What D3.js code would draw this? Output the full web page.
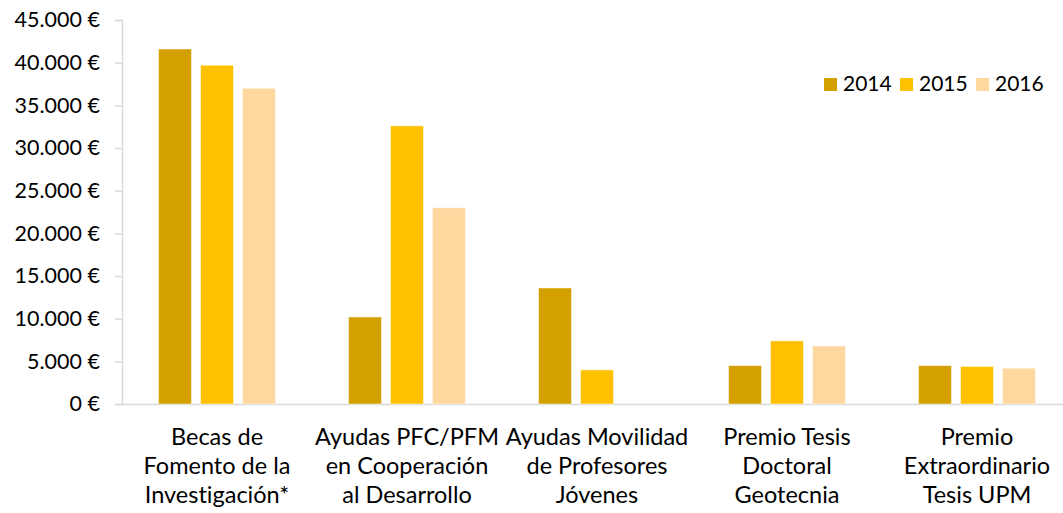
<!DOCTYPE html>
<html lang="es">
<head>
<meta charset="UTF-8">
<title>Ayudas y premios</title>
<style>
  body { margin: 0; background: white; }
  text { font-family: Lato, "Open Sans", sans-serif; fill: #000; font-variant-ligatures: none; }
</style>
<script src="https://d3js.org/d3.v7.min.js"></script>
</head>
<body>
<div id="chart"></div>
<script>
// categories (multi-line labels)
const categories = [
  ["Becas de", "Fomento de la", "Investigación*"],
  ["Ayudas PFC/PFM", "en Cooperación", "al Desarrollo"],
  ["Ayudas Movilidad", "de Profesores", "Jóvenes"],
  ["Premio Tesis", "Doctoral", "Geotecnia"],
  ["Premio", "Extraordinario", "Tesis UPM"]
];
const years = ["2014", "2015", "2016"];
const values2014 = [41600, 10200, 13600, 4500, 4500];
const values2015 = [39700, 32600, 4000, 7400, 4400];
const values2016 = [37000, 23000, 0, 6800, 4200];
const yTicks = [0, 5000, 10000, 15000, 20000, 25000, 30000, 35000, 40000, 45000];
const colors = ["#D4A000", "#FFC000", "#FFD8A0"];

const series = [values2014, values2015, values2016];
const width = 1063, height = 513;
const margin = { left: 122, right: -9, top: 20, bottom: 109 };

const svg = d3.select("#chart").append("svg")
  .attr("width", width).attr("height", height);

const x = d3.scaleBand()
  .domain(d3.range(categories.length))
  .range([margin.left, width - margin.right])
  .paddingInner(0).paddingOuter(0);

const x1 = d3.scaleBand()
  .domain(years)
  .range([0, x.bandwidth()])
  .paddingInner(0.214)
  .paddingOuter(0.87);

const y = d3.scaleLinear()
  .domain([0, 45000])
  .range([height - margin.bottom, margin.top]);

const fmt = v => d3.format(",")(v).replace(/,/g, ".") + " €";

// y axis
const yAxis = svg.append("g")
  .attr("transform", `translate(${margin.left},0)`)
  .call(d3.axisLeft(y).tickValues(yTicks).tickFormat(fmt).tickSize(7).tickPadding(15));
yAxis.select(".domain").attr("stroke", "#d9d9d9").attr("stroke-width", 1.5);
yAxis.selectAll(".tick line").attr("stroke", "#d9d9d9").attr("stroke-width", 1.5);
yAxis.selectAll(".tick text").style("font-size", "21.5px").attr("font-family", null);

// x axis line
const xAxis = svg.append("g")
  .attr("transform", `translate(0,${y(0)})`)
  .call(d3.axisBottom(x).tickSize(0).tickFormat(""));
xAxis.select(".domain").attr("stroke", "#d9d9d9").attr("stroke-width", 1.5);

// bars
const groups = svg.append("g").selectAll("g")
  .data(categories.map((c, i) => i))
  .join("g")
  .attr("transform", i => `translate(${x(i)},0)`);

groups.selectAll("rect")
  .data(i => years.map((yr, k) => ({ yr, k, v: series[k][i] })).filter(d => d.v > 0))
  .join("rect")
  .attr("x", d => x1(d.yr))
  .attr("width", x1.bandwidth())
  .attr("y", d => y(d.v))
  .attr("height", d => y(0) - y(d.v))
  .attr("fill", d => colors[d.k])
  .attr("stroke", "rgba(255,255,255,0.5)")
  .attr("stroke-width", 1);

// category labels
const labels = svg.append("g").selectAll("text")
  .data(categories)
  .join("text")
  .attr("text-anchor", "middle")
  .style("font-size", "23.5px")
  .attr("x", (c, i) => x(i) + x.bandwidth() / 2)
  .attr("y", 445);
labels.selectAll("tspan")
  .data(c => c)
  .join("tspan")
  .attr("x", function () { return d3.select(this.parentNode).attr("x"); })
  .attr("dy", (d, j) => j === 0 ? 0 : 29)
  .text(d => d);

// legend
const legend = svg.append("g").attr("transform", "translate(824,78)");
const item = legend.selectAll("g")
  .data(years)
  .join("g")
  .attr("transform", (d, i) => `translate(${i * 76},0)`);
item.append("rect")
  .attr("width", 13).attr("height", 13)
  .attr("fill", (d, i) => colors[i]);
item.append("text")
  .attr("x", 19).attr("y", 13)
  .style("font-size", "21px")
  .text(d => d);
</script>
</body>
</html>
